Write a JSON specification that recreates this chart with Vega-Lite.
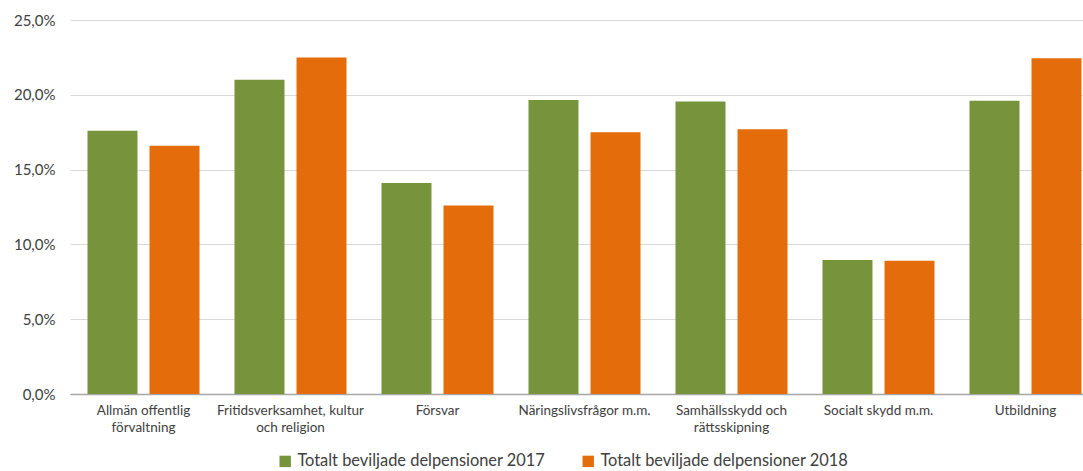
{
  "$schema": "https://vega.github.io/schema/vega-lite/v6.json",
  "autosize": {"type": "none"},
  "padding": {"left": 70, "top": 20, "right": 0, "bottom": 77},
  "width": 1029,
  "height": 374,
  "background": "white",
  "config": {
    "font": "Lato",
    "view": {"stroke": null}
  },
  "data": {
    "values": [
      {"kategori": "Allmän offentlig förvaltning", "serie": "Totalt beviljade delpensioner 2017", "andel": 17.6},
      {"kategori": "Allmän offentlig förvaltning", "serie": "Totalt beviljade delpensioner 2018", "andel": 16.6},
      {"kategori": "Fritidsverksamhet, kultur och religion", "serie": "Totalt beviljade delpensioner 2017", "andel": 21.0},
      {"kategori": "Fritidsverksamhet, kultur och religion", "serie": "Totalt beviljade delpensioner 2018", "andel": 22.5},
      {"kategori": "Försvar", "serie": "Totalt beviljade delpensioner 2017", "andel": 14.1},
      {"kategori": "Försvar", "serie": "Totalt beviljade delpensioner 2018", "andel": 12.6},
      {"kategori": "Näringslivsfrågor m.m.", "serie": "Totalt beviljade delpensioner 2017", "andel": 19.65},
      {"kategori": "Näringslivsfrågor m.m.", "serie": "Totalt beviljade delpensioner 2018", "andel": 17.5},
      {"kategori": "Samhällsskydd och rättsskipning", "serie": "Totalt beviljade delpensioner 2017", "andel": 19.55},
      {"kategori": "Samhällsskydd och rättsskipning", "serie": "Totalt beviljade delpensioner 2018", "andel": 17.7},
      {"kategori": "Socialt skydd m.m.", "serie": "Totalt beviljade delpensioner 2017", "andel": 8.95},
      {"kategori": "Socialt skydd m.m.", "serie": "Totalt beviljade delpensioner 2018", "andel": 8.9},
      {"kategori": "Utbildning", "serie": "Totalt beviljade delpensioner 2017", "andel": 19.6},
      {"kategori": "Utbildning", "serie": "Totalt beviljade delpensioner 2018", "andel": 22.45}
    ]
  },
  "mark": {"type": "bar"},
  "encoding": {
    "x": {
      "field": "kategori",
      "type": "nominal",
      "sort": null,
      "title": null,
      "scale": {"paddingInner": 0.238, "paddingOuter": 0.119},
      "axis": {
        "labelAngle": 0,
        "labelFontSize": 13.5,
        "labelColor": "#404040",
        "labelPadding": 9,
        "labelLineHeight": 17,
        "labelLimit": 200,
        "ticks": false,
        "domainColor": "#a6a6a6",
        "domainWidth": 1.5,
        "labelExpr": "datum.label == 'Allmän offentlig förvaltning' ? ['Allmän offentlig', 'förvaltning'] : datum.label == 'Fritidsverksamhet, kultur och religion' ? ['Fritidsverksamhet, kultur', 'och religion'] : datum.label == 'Samhällsskydd och rättsskipning' ? ['Samhällsskydd och', 'rättsskipning'] : datum.label"
      }
    },
    "xOffset": {
      "field": "serie",
      "type": "nominal",
      "scale": {"paddingInner": 0.194}
    },
    "y": {
      "field": "andel",
      "type": "quantitative",
      "title": null,
      "scale": {"domain": [0, 25]},
      "axis": {
        "values": [0, 5, 10, 15, 20, 25],
        "labelExpr": "replace(format(datum.value, '.1f'), '.', ',') + '%'",
        "labelFontSize": 15,
        "labelColor": "#404040",
        "labelPadding": 15,
        "ticks": false,
        "domain": false,
        "gridColor": "#d9d9d9",
        "gridWidth": 1.2
      }
    },
    "color": {
      "field": "serie",
      "type": "nominal",
      "title": null,
      "scale": {"range": ["#77933c", "#e46c0a"]},
      "legend": {
        "orient": "none",
        "direction": "horizontal",
        "legendX": 207,
        "legendY": 433,
        "symbolType": "square",
        "symbolSize": 130,
        "symbolStrokeWidth": 0,
        "labelFontSize": 16.4,
        "labelColor": "#404040",
        "labelLimit": 400,
        "columnPadding": 34,
        "labelOffset": 4
      }
    }
  }
}
